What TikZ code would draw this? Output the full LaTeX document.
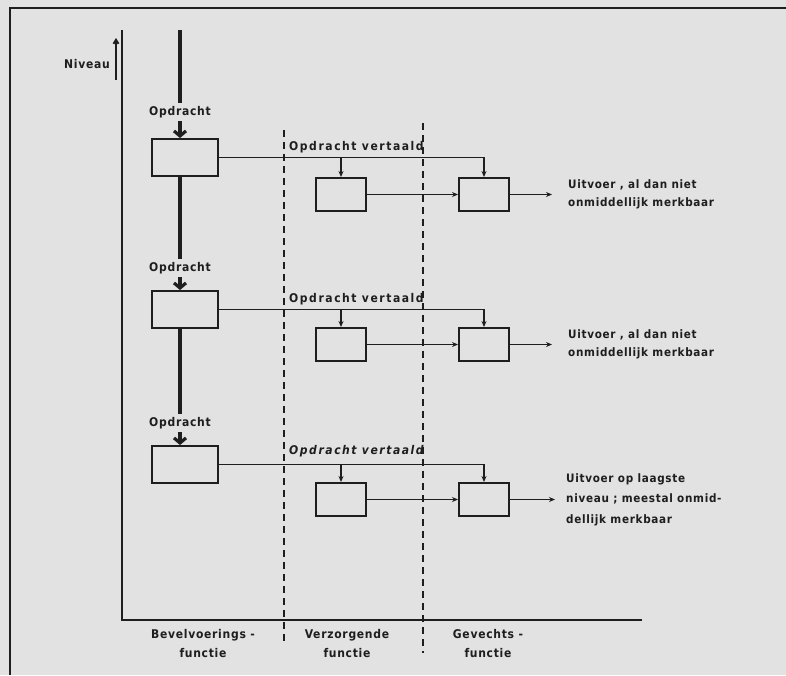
\documentclass[tikz,border=0pt]{standalone}
\usepackage{fontspec}
\newfontfamily\letterfont[LetterSpace=6]{DejaVu Sans Condensed}
\newfontfamily\widefont[LetterSpace=13]{DejaVu Sans Condensed}
\usetikzlibrary{arrows.meta,positioning}
\definecolor{ink}{HTML}{1E1E1E}
\definecolor{paper}{HTML}{E2E2E2}

\begin{document}
\begin{tikzpicture}[x=1pt, y=-1pt, >={Stealth[length=6pt,width=5pt]},
  every node/.style={font=\letterfont\bfseries\fontsize{12}{18}\selectfont, text=ink, inner sep=0pt},
  box/.style={draw=ink, line width=2pt, minimum width=50pt, minimum height=33pt},
  bigbox/.style={box, minimum width=66pt, minimum height=37pt},
  opd/.style={inner sep=3pt},
  transl/.style={anchor=base west, font=\widefont\bfseries\fontsize{12}{18}\selectfont},
  thin/.style={draw=ink, line width=1.9pt},
  mainline/.style={draw=ink, line width=3.2pt},
  split/.style={draw=ink, line width=1.8pt, dash pattern=on 7pt off 5pt}]
  % page
  \fill[paper] (0,0) rectangle (786,675);
  \useasboundingbox (0,0) rectangle (786,675);
  \draw[ink, line width=2.6pt] (10,675) -- (10,8) -- (786,8);
  \draw[ink, line width=1.9pt] (122,30) -- (122,620) -- (642,620);

  % niveau axis
  \node[anchor=east] (niv) at (110,64) {Niveau};
  \coordinate (nivlo) at (116,80);
  \coordinate (nivhi) at (116,38);
  \draw[thin, -{Straight Barb[length=4pt,width=5pt]}] (nivlo) -- (nivhi);

  % separators between the functions
  \draw[split] (284,130) -- (284,643);
  \draw[split] (423,123) -- (423,653);

  % bevelvoering (one box per level)
  \coordinate (top) at (180,30);
  \node[opd] (o1) at (180,112) {Opdracht};
  \node[bigbox] (a1) at (185,157.5) {};
  \node[opd] (o2) at (180,268) {Opdracht};
  \node[bigbox] (a2) at (185,309.5) {};
  \node[opd] (o3) at (180,423) {Opdracht};
  \node[bigbox] (a3) at (185,464.5) {};

  % verzorging and gevecht
  \node[box] (b1) at (341,194.5) {};
  \node[box, right=91pt of b1] (c1) {};
  \node[box] (b2) at (341,344.5) {};
  \node[box, right=91pt of b2] (c2) {};
  \node[box] (b3) at (341,499.5) {};
  \node[box, right=91pt of b3] (c3) {};
  \coordinate[right=42pt of c1] (out1);
  \coordinate[right=42pt of c2] (out2);
  \coordinate[right=45pt of c3] (out3);

  \draw[mainline] (top) -- (o1.north);
  \draw[mainline, -{Straight Barb[length=5pt,width=12pt]}] (o1.south) -- (o1.south |- a1.north);
  \draw[mainline] (o1.south |- a1.south) -- (o2.north);
  \draw[mainline, -{Straight Barb[length=5pt,width=12pt]}] (o2.south) -- (o2.south |- a2.north);
  \draw[mainline] (o2.south |- a2.south) -- (o3.north);
  \draw[mainline, -{Straight Barb[length=5pt,width=12pt]}] (o3.south) -- (o3.south |- a3.north);

  \draw[thin, ->] (a1.east) -| (c1.north);
  \draw[thin, ->] (a1.east -| b1.north) -- (b1.north);
  \draw[thin, ->] (b1) -- (c1);
  \draw[thin, ->] (c1) -- (out1);
  \draw[thin, ->] (a2.east) -| (c2.north);
  \draw[thin, ->] (a2.east -| b2.north) -- (b2.north);
  \draw[thin, ->] (b2) -- (c2);
  \draw[thin, ->] (c2) -- (out2);
  \draw[thin, ->] (a3.east) -| (c3.north);
  \draw[thin, ->] (a3.east -| b3.north) -- (b3.north);
  \draw[thin, ->] (b3) -- (c3);
  \draw[thin, ->] (c3) -- (out3);

  \node[transl] (v1) at (289,150) {Opdracht vertaald};
  \node[transl] (v2) at (289,302) {Opdracht vertaald};
  \node[transl, font=\widefont\bfseries\itshape\fontsize{12}{18}\selectfont] (v3) at (289,454) {Opdracht vertaald};

  % outputs
  \node[anchor=west, align=left, right=16pt of out1, font=\letterfont\bfseries\fontsize{11.6}{18}\selectfont] (u1)
    {Uitvoer , al dan niet\\onmiddellijk merkbaar};
  \node[anchor=west, align=left, right=16pt of out2, font=\letterfont\bfseries\fontsize{11.6}{18}\selectfont] (u2)
    {Uitvoer , al dan niet\\onmiddellijk merkbaar};
  \node[anchor=west, align=left, right=11pt of out3, font=\letterfont\bfseries\fontsize{11.6}{20.5}\selectfont] (u3)
    {Uitvoer op laagste\\niveau ; meestal onmid-\\dellijk merkbaar};

  % function names
  \node[align=center, font=\letterfont\bfseries\fontsize{12}{19}\selectfont] (bev) at (203,643.5) {Bevelvoerings -\\functie};
  \node[align=center, font=\letterfont\bfseries\fontsize{12}{19}\selectfont] (verz) at (347,643.5) {Verzorgende\\functie};
  \node[align=center, font=\letterfont\bfseries\fontsize{12}{19}\selectfont] (gev) at (488,643.5) {Gevechts -\\functie};
\end{tikzpicture}
\end{document}
